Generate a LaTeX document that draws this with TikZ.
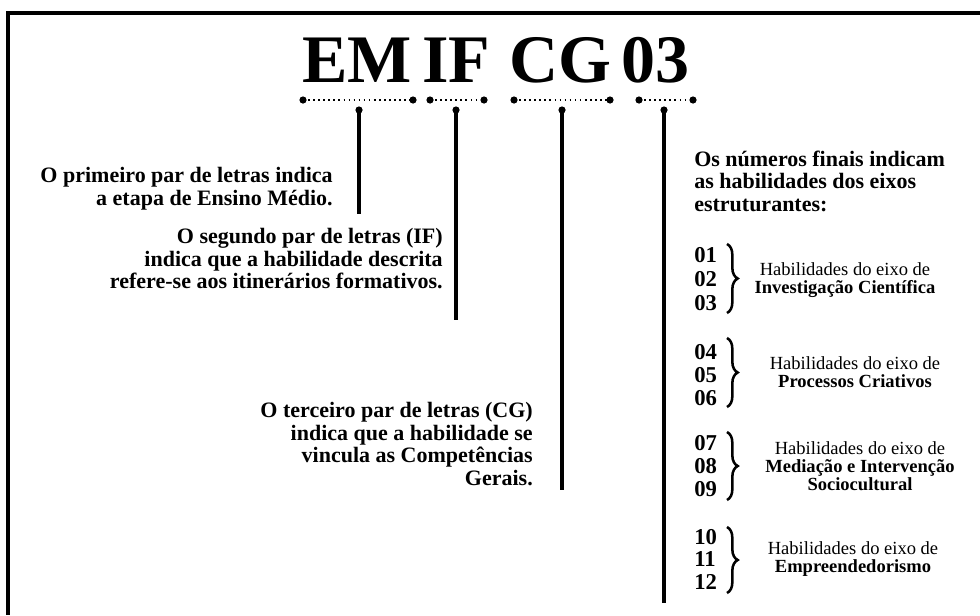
\documentclass[tikz,border=0pt]{standalone}
\usepackage{fontspec}
\setmainfont{Liberation Serif}
\usetikzlibrary{decorations.pathreplacing}
\begin{document}
\begin{tikzpicture}[x=0.75pt,y=-0.75pt,
  titleword/.style={font=\fontsize{51}{51}\selectfont\bfseries, inner sep=0pt, anchor=base},
  descr/.style={font=\fontsize{16.5}{16.9}\selectfont\bfseries, inner sep=0pt, align=right, anchor=north east},
  descl/.style={font=\fontsize{16.5}{16.6}\selectfont\bfseries, inner sep=0pt, align=left, anchor=north west},
  numlbl/.style={font=\fontsize{17}{17}\selectfont\bfseries, inner sep=0pt, anchor=west},
  axis/.style={font=\fontsize{13.9}{13.4}\selectfont, inner sep=0pt, align=center},
  dotline/.style={line width=1.5pt, dash pattern=on 1.2pt off 2.6pt},
  stem/.style={line width=2.3pt},
  dotend/.style={fill=black},
  bracestyle/.style={line width=1.9pt, decorate, decoration={brace, amplitude=8}},
  frame/.style={line width=2.3pt}
]
\useasboundingbox (0,0) rectangle (980,615);
% frame
\draw[frame] (980,13) -- (8,13) -- (8,615);

% title words
\node[titleword] (em) at (357,82) {EM};
\node[titleword] (if) at (456,82) {IF};
\node[titleword] (cg) at (560,82) {CG};
\node[titleword] (n03) at (655,82) {03};

% dotted underlines
\foreach \nm/\a/\b in {1/303/413, 2/430/484, 3/514/610, 4/639/693}{
  \coordinate (u\nm a) at (\a,100);
  \coordinate (u\nm b) at (\b,100);
  \draw[dotline] (u\nm a) -- (u\nm b);
  \fill[dotend] (u\nm a) circle (3.6);
  \fill[dotend] (u\nm b) circle (3.6);
}
% stems
\foreach \nm/\x/\y in {1/359/214, 2/456/320, 3/562/490, 4/664/603}{
  \coordinate (t\nm) at (\x,110);
  \coordinate (e\nm) at (\x,\y);
  \draw[stem] (t\nm) -- (e\nm);
  \fill[dotend] (t\nm) circle (3.6);
}

% descriptions
\node[descr] (d1) at (333,167) {O primeiro par de letras indica\\a etapa de Ensino Médio.};
\node[descr] (d2) at (443,228) {O segundo par de letras (IF)\\indica que a habilidade descrita\\refere-se aos itinerários formativos.};
\node[descr] (d3) at (533,402) {O terceiro par de letras (CG)\\indica que a habilidade se\\vincula as Competências\\Gerais.};
\node[descl] (d4) at (694,151) {Os números finais indicam\\as habilidades dos eixos\\estruturantes:};

% number groups
\node[numlbl] (n01) at (694,255) {01};
\node[numlbl] (n02) at (694,279) {02};
\node[numlbl] (n03b) at (694,303) {03};
\node[numlbl] (n04) at (694,352) {04};
\node[numlbl] (n05) at (694,375) {05};
\node[numlbl] (n06) at (694,398) {06};
\node[numlbl] (n07) at (694,443) {07};
\node[numlbl] (n08) at (694,466) {08};
\node[numlbl] (n09) at (694,489) {09};
\node[numlbl] (n10) at (694,537) {10};
\node[numlbl] (n11) at (694,559) {11};
\node[numlbl] (n12) at (694,582) {12};

% braces
\foreach \nm/\a/\b in {1/244/313, 2/338/407, 3/432/500, 4/527/593}{
  \coordinate (b\nm a) at (727,\a);
  \coordinate (b\nm b) at (727,\b);
  \draw[bracestyle] (b\nm a) -- (b\nm b);
}

% axis labels
\node[axis] (x1) at (845,280) {Habilidades do eixo de\\\textbf{Investigação Científica}};
\node[axis] (x2) at (855,372) {Habilidades do eixo de\\\textbf{Processos Criativos}};
\node[axis] (x3) at (860,466) {Habilidades do eixo de\\\textbf{Mediação e Intervenção}\\\textbf{Sociocultural}};
\node[axis] (x4) at (853,559) {Habilidades do eixo de\\\textbf{Empreendedorismo}};
\end{tikzpicture}
\end{document}
